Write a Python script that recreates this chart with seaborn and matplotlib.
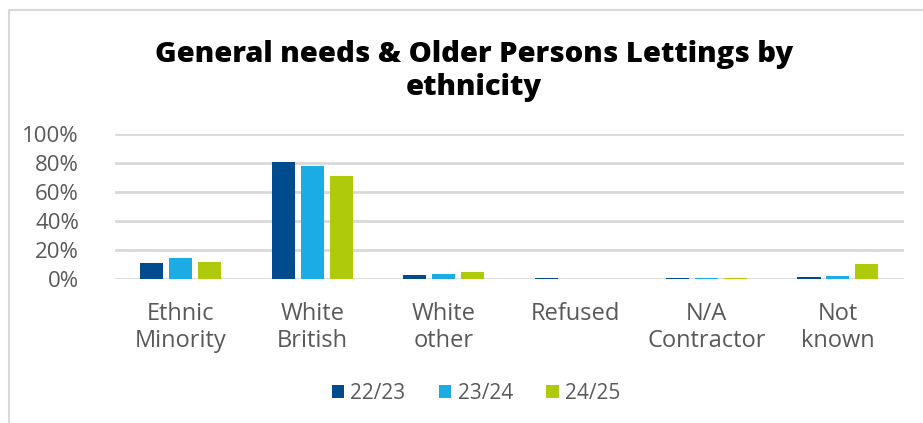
import matplotlib
matplotlib.use("Agg")
import matplotlib.pyplot as plt
import seaborn as sns
import pandas as pd
from matplotlib.patches import Rectangle

categories = ["Ethnic\nMinority", "White\nBritish", "White\nother", "Refused", "N/A\nContractor", "Not\nknown"]
years = ["22/23", "23/24", "24/25"]
share_2223 = [11.2, 80.9, 3.0, 0.9, 0.8, 1.6]
share_2324 = [14.9, 78.0, 3.6, 0.0, 0.6, 2.0]
share_2425 = [11.9, 70.9, 4.8, 0.0, 0.6, 10.7]
palette = ["#004B8D", "#1AACE3", "#AFCA0B"]

df = pd.DataFrame({
    "category": categories * 3,
    "year": [y for y in years for _ in categories],
    "share": share_2223 + share_2324 + share_2425,
})

sns.set_theme(style="white")
plt.rcParams["font.family"] = ["Open Sans", "DejaVu Sans"]
text_color = "#595959"

fig = plt.figure(figsize=(9.23, 4.23), dpi=100)
ax = fig.add_axes([0.1246, 0.3397, 0.979 - 0.1246, 0.6832 - 0.3397])

sns.barplot(data=df, x="category", y="share", hue="year", palette=palette,
            width=0.66, gap=0.2, saturation=1, linewidth=0, ax=ax, legend=True)

ax.set_ylim(0, 100)
ax.set_xlim(-0.5, len(categories) - 0.5)
ax.set_yticks(range(0, 101, 20))
ax.set_yticklabels([f"{v}%" for v in range(0, 101, 20)])
ax.yaxis.grid(True, color="#d9d9d9", linewidth=2, zorder=0)
ax.set_axisbelow(True)
for bar in ax.patches:
    bar.set_zorder(3)
for s in ax.spines.values():
    s.set_visible(False)
ax.set_xlabel("")
ax.set_ylabel("")
ax.tick_params(axis="y", labelsize=16, labelcolor=text_color, pad=26, length=0)
ax.tick_params(axis="x", labelsize=17, labelcolor=text_color, pad=16, length=0)
for lbl in ax.get_xticklabels():
    lbl.set_linespacing(1.22)

handles, labels = ax.get_legend_handles_labels()
ax.legend_.remove()
fig.legend(handles, labels, loc="center", bbox_to_anchor=(476 / 923, 1 - 393 / 423),
           ncol=3, frameon=False, fontsize=15, handlelength=0.6, handleheight=0.6,
           handletextpad=0.3, columnspacing=1.6, labelcolor=text_color)

fig.text(474 / 923, 1 - 71 / 423, "General needs & Older Persons Lettings by\nethnicity",
         ha="center", va="center", fontsize=21, fontweight="heavy", color="black",
         linespacing=1.2)

fig.patches.append(Rectangle((9 / 923, -0.1), 1.2, 1 - 10 / 423 + 0.1,
                             transform=fig.transFigure, fill=False,
                             edgecolor="#d9d9d9", linewidth=1.5))

fig.savefig("out.png", dpi=100)
